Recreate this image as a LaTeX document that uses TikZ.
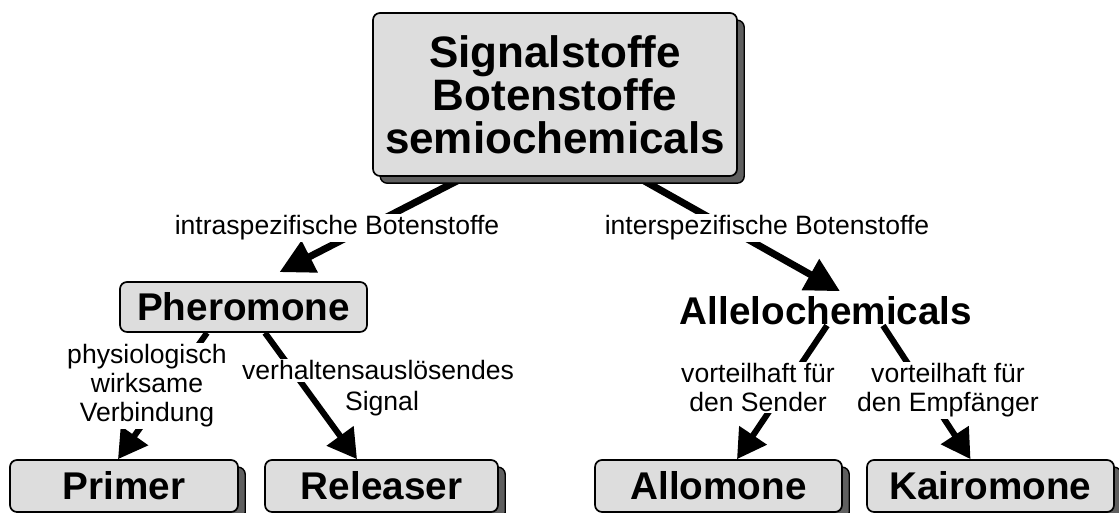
\documentclass[tikz,border=0pt]{standalone}
\usepackage{fontspec}
\setmainfont{Liberation Sans}
\usetikzlibrary{arrows.meta,shadows,backgrounds}

\definecolor{kastengrau}{RGB}{221,221,221}
\definecolor{schattengrau}{RGB}{95,95,95}

\tikzset{
  kasten/.style={draw=black, line width=1.2pt, fill=kastengrau, rounded corners=5pt,
    inner sep=0pt, font=\fontsize{27.5}{30}\selectfont\bfseries},
  schatten/.style={general shadow={shadow xshift=.18cm, shadow yshift=-.18cm,
    fill=schattengrau, draw=black, line width=1pt}},
  pfeil/.style={line width=4.3pt, -{Triangle[length=.72cm,width=.8cm]}},
  grosspfeil/.style={line width=5pt, -{Triangle[length=.85cm,width=.85cm]}},
  etikett/.style={fill=white, inner sep=1pt, align=center,
    font=\fontsize{18.9}{20.6}\selectfont},
}

\begin{document}
\begin{tikzpicture}
    \useasboundingbox (0,0) rectangle (27.975,12.825);

    \node[kasten,schatten,align=center,minimum width=9.1cm,minimum height=4.075cm,
      font=\fontsize{31.3}{30.6}\selectfont\bfseries] (signalstoffe) at (13.875,10.4625)
      {Signalstoffe\\Botenstoffe\\semiochemicals};

    \node[kasten,minimum width=6.175cm,minimum height=1.25cm] (pheromon) at (6.0875,5.15) {Pheromone};
    \node[anchor=base,font=\fontsize{27.5}{30}\selectfont\bfseries] (allelo) at (20.65,4.72) {Allelochemicals};

    \node[kasten,schatten,minimum width=5.7cm,minimum height=1.3cm] (primer) at (3.1,0.675) {Primer};
    \node[kasten,schatten,minimum width=5.825cm,minimum height=1.3cm] (releaser) at (9.5375,0.675) {Releaser};
    \node[kasten,schatten,minimum width=6.175cm,minimum height=1.3cm] (allomon) at (17.9625,0.675) {Allomone};
    \node[kasten,schatten,minimum width=6.175cm,minimum height=1.3cm] (kairomon) at (24.7625,0.675) {Kairomone};

    \begin{scope}[on background layer]
      \draw[grosspfeil] ([xshift=-2.25cm]signalstoffe.south) -- ([xshift=.9cm,yshift=.225cm]pheromon.north);
      \draw[grosspfeil] ([xshift=2.05cm]signalstoffe.south) -- ([xshift=.35cm]allelo.north);
      \draw[pfeil] ([xshift=-.9125cm]pheromon.south) -- ([xshift=-.15cm]primer.north);
      \draw[pfeil] ([xshift=.5375cm]pheromon.south) -- ([xshift=-.6125cm]releaser.north);
      \draw[pfeil] ([xshift=.025cm,yshift=.1cm]allelo.south) -- ([xshift=.4625cm]allomon.north);
      \draw[pfeil] ([xshift=1.425cm,yshift=.1cm]allelo.south) -- ([xshift=-.5cm]kairomon.north);
    \end{scope}

    \node[etikett,anchor=base] (intra) at (8.425,6.95) {intraspezifische Botenstoffe};
    \node[etikett,anchor=base] (inter) at (19.175,6.95) {interspezifische Botenstoffe};
    \node[etikett] (physio) at (3.675,3.175) {physiologisch\\wirksame\\Verbindung};
    \node[etikett,anchor=base] (verhalten) at (9.45,3.325) {verhaltensauslösendes};
    \node[etikett,anchor=base] (signalwort) at (9.55,2.55) {Signal};
    \node[etikett] (sender) at (18.95,3.1375) {vorteilhaft für\\den Sender};
    \node[etikett] (empfaenger) at (23.7,3.0625) {vorteilhaft für\\den Empfänger};
\end{tikzpicture}
\end{document}
